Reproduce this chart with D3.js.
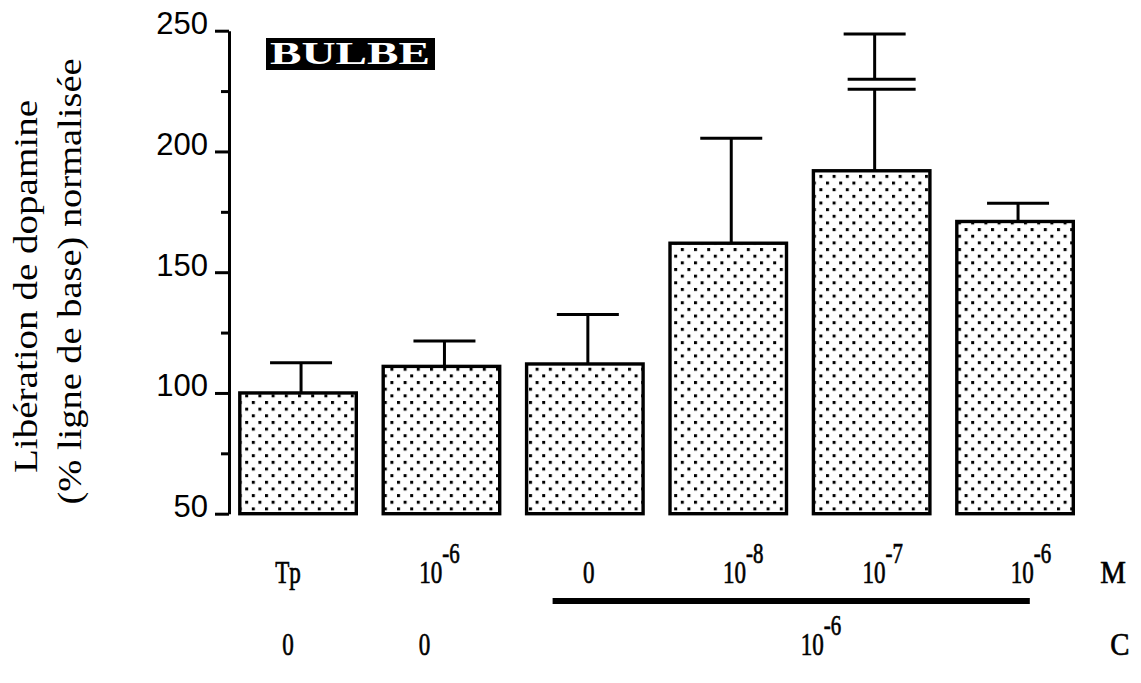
<!DOCTYPE html>
<html>
<head>
<meta charset="utf-8">
<script src="https://cdn.jsdelivr.net/npm/d3@7"></script>
<style>
  body { margin: 0; background: #fff; }
  svg { display: block; }
</style>
</head>
<body>
<svg id="chart" width="1141" height="683"></svg>
<script>
// Dopamine release in the olfactory bulb, normalised to baseline (%)
const groups        = ["Tp", "M 1e-6", "C 0", "C+M 1e-8", "C+M 1e-7", "C+M 1e-6"];
const releaseMean   = [100, 111, 112, 162, 192, 171];
const releaseErrTop = [112.5, 121.5, 132.5, 205.5, 248.6, 178.5];
// broken error bar (value range that is cut out of the whisker)
const errBreakLow   = [null, null, null, null, 225.8, null];
const errBreakHigh  = [null, null, null, null, 229.9, null];

// condition labels under the bars
const rowMBase = ["Tp", "10", "0", "10", "10", "10"];
const rowMExp  = ["", "-6", "", "-8", "-7", "-6"];
const rowCBase = ["0", "0"];          // first two bars
const rowCGroupBase = "10";           // shared by bars 3 to 6
const rowCGroupExp  = "-6";

const yMajorTicks = [50, 100, 150, 200, 250];
const yMinorTicks = [75, 125, 175, 225];
const yTitleLines = ["Libération de dopamine", "(% ligne de base) normalisée"];
const panelTitle  = "BULBE";

const svg = d3.select("#chart");
svg.append("rect").attr("width", 1141).attr("height", 683).attr("fill", "#fff");

// stippled fill for the bars
const defs = svg.append("defs");
const pat = defs.append("pattern")
  .attr("id", "dots").attr("patternUnits", "userSpaceOnUse")
  .attr("x", 1).attr("y", 2)
  .attr("width", 13.2).attr("height", 13.3);
pat.append("rect").attr("width", 13.2).attr("height", 13.3).attr("fill", "#fff");
pat.append("rect").attr("x", 0).attr("y", 0).attr("width", 3).attr("height", 3).attr("fill", "#000");
pat.append("rect").attr("x", 6.6).attr("y", 6.65).attr("width", 3).attr("height", 3).attr("fill", "#000");

const x = d3.scaleBand()
  .domain(d3.range(groups.length))
  .range([239.8, 1073.3])
  .paddingInner(0.1876)
  .paddingOuter(0);

const y = d3.scaleLinear().domain([50, 250]).range([513.7, 30.7]);
const bw = x.bandwidth();

// y axis: major ticks with labels, minor ticks without
const axisX = 229;
const gAxis = svg.append("g").attr("transform", `translate(${axisX},0)`);
gAxis.call(d3.axisLeft(y).tickValues(yMajorTicks).tickSize(14).tickSizeOuter(0)
  .tickPadding(7).tickFormat(d3.format("d")));
gAxis.select(".domain").attr("stroke", "#000").attr("stroke-width", 3);
gAxis.selectAll(".tick line").attr("stroke", "#000").attr("stroke-width", 3);
gAxis.selectAll(".tick text")
  .attr("dy", "3px")
  .attr("fill", "#000")
  .style("font-family", "'Liberation Sans', Arial, sans-serif")
  .style("font-size", "31px");

const gMinor = svg.append("g").attr("transform", `translate(${axisX},0)`);
gMinor.call(d3.axisLeft(y).tickValues(yMinorTicks).tickSize(8).tickFormat(""));
gMinor.select(".domain").remove();
gMinor.selectAll(".tick line").attr("stroke", "#000").attr("stroke-width", 3);

// bars
svg.append("g").selectAll("rect")
  .data(releaseMean)
  .join("rect")
  .attr("x", (d, i) => x(i))
  .attr("y", d => y(d))
  .attr("width", bw)
  .attr("height", d => y(50) - y(d))
  .attr("fill", "url(#dots)")
  .attr("stroke", "#000")
  .attr("stroke-width", 3.4);

// error bars (upper whisker only)
const gErr = svg.append("g").attr("stroke", "#000").attr("stroke-width", 3);
releaseMean.forEach((m, i) => {
  const cx = x(i) + bw / 2 + 3;
  const top = releaseErrTop[i];
  const lo = errBreakLow[i], hi = errBreakHigh[i];
  if (lo == null) {
    gErr.append("line").attr("x1", cx).attr("x2", cx).attr("y1", y(m)).attr("y2", y(top));
  } else {
    gErr.append("line").attr("x1", cx).attr("x2", cx).attr("y1", y(m)).attr("y2", y(lo));
    gErr.append("line").attr("x1", cx).attr("x2", cx).attr("y1", y(hi)).attr("y2", y(top));
    [lo, hi].forEach(v => {
      gErr.append("line").attr("x1", cx - 27).attr("x2", cx + 41).attr("y1", y(v)).attr("y2", y(v));
    });
  }
  gErr.append("line").attr("x1", cx - 31).attr("x2", cx + 31).attr("y1", y(top)).attr("y2", y(top));
});

// panel title
const gTitle = svg.append("g");
gTitle.append("rect").attr("x", 266).attr("y", 38).attr("width", 169).attr("height", 32).attr("fill", "#000");
gTitle.append("text")
  .attr("x", 270).attr("y", 64)
  .attr("textLength", 160).attr("lengthAdjust", "spacingAndGlyphs")
  .attr("fill", "#fff")
  .style("font-family", "'Liberation Serif', 'Times New Roman', serif")
  .style("font-weight", "bold")
  .style("font-size", "31px")
  .text(panelTitle);

// y axis title, two rotated lines
const yTitleX = [37, 81], yTitleLen = [373, 446], yTitleMid = [286.5, 281.5];
yTitleLines.forEach((t, k) => {
  svg.append("text")
    .attr("transform", `translate(${yTitleX[k]},${yTitleMid[k]}) rotate(-90)`)
    .attr("text-anchor", "middle")
    .attr("textLength", yTitleLen[k]).attr("lengthAdjust", "spacingAndGlyphs")
    .attr("fill", "#000")
    .style("font-family", "'Liberation Serif', 'Times New Roman', serif")
    .style("font-size", "34px")
    .text(t);
});

// labels with optional superscript exponent, horizontally condensed serif
const serif = "'Liberation Serif', 'Times New Roman', serif";
function expLabel(cx, baseY, base, exp, anchor, sx) {
  const t = svg.append("text")
    .attr("transform", `translate(${cx},${baseY}) scale(${sx || 0.72},1)`)
    .attr("text-anchor", anchor || "middle")
    .attr("fill", "#000")
    .attr("stroke", "#000")
    .attr("stroke-width", 0.7)
    .style("font-family", serif)
    .style("font-size", "32px");
  t.append("tspan").text(base);
  if (exp) t.append("tspan").attr("dy", -20).style("font-size", "29px").text(exp);
  return t;
}

const rowMY = 583, rowCY = 655;
const labelNudge = [-10, -2, 4, 15, 11, 16];
rowMBase.forEach((b, i) => {
  expLabel(x(i) + bw / 2 + labelNudge[i], rowMY, b, rowMExp[i]);
});
rowCBase.forEach((b, i) => {
  expLabel(x(i) + bw / 2 + (i === 0 ? -10 : -17), rowCY, b, "");
});
expLabel((x(2) + x(5) + bw) / 2 + 21, rowCY, rowCGroupBase, rowCGroupExp);

// bar under the combined-treatment group
svg.append("rect")
  .attr("x", x(2) + 26).attr("y", 598)
  .attr("width", (x(5) + 73) - (x(2) + 26)).attr("height", 6)
  .attr("fill", "#000");

// row keys
expLabel(x(5) + bw + 27, rowMY, "M", "", "start", 0.9);
expLabel(x(5) + bw + 37, rowCY, "C", "", "start", 0.9);
</script>
</body>
</html>
